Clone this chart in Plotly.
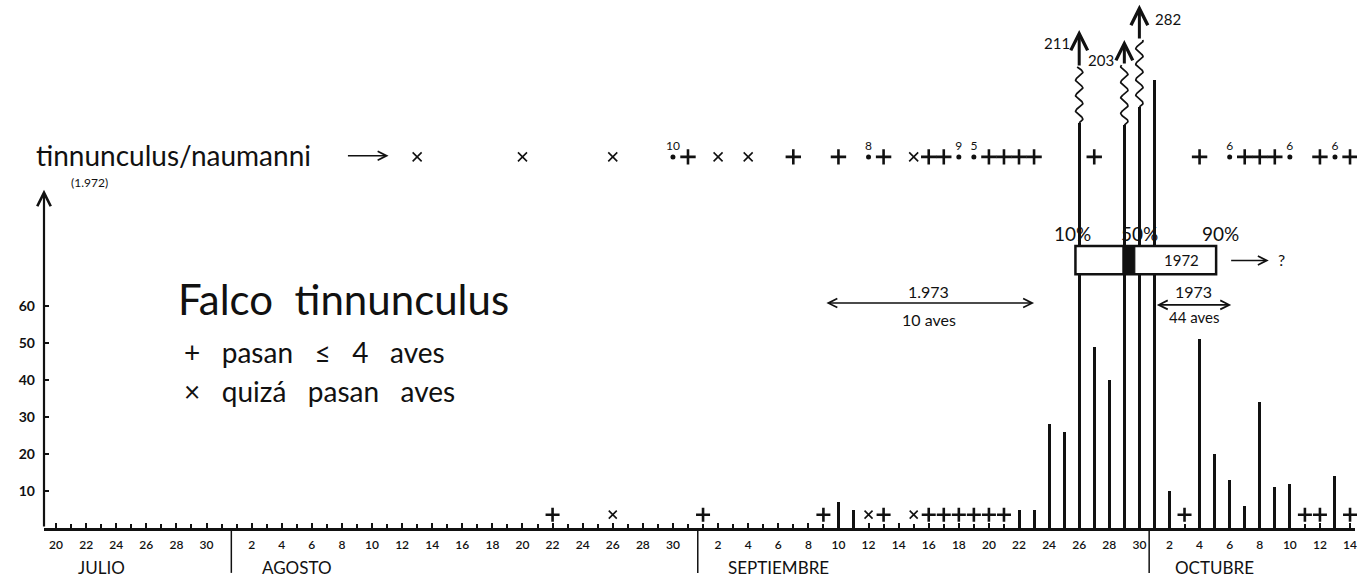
import numpy as np
import pandas as pd
import plotly.graph_objects as go

# ---------------- data ----------------
START = pd.Timestamp("1973-07-20")

# 1973: daily counts drawn as bars
bar_dates = ["09-10", "09-11", "09-22", "09-23", "09-24", "09-25", "09-26", "09-27",
             "09-28", "09-29", "09-30", "10-01", "10-02", "10-04", "10-05", "10-06",
             "10-07", "10-08", "10-09", "10-10", "10-13"]
bar_values = [7, 5, 5, 5, 28, 26, 211, 49, 40, 203, 282, 121, 10, 51, 20, 13, 6, 34, 11, 12, 14]

# 1973: days with <= 4 birds (+) and days where birds may have passed (x)
plus_dates_73 = ["08-22", "09-01", "09-09", "09-13", "09-16", "09-17", "09-18", "09-19",
                 "09-20", "09-21", "10-03", "10-11", "10-12", "10-14"]
x_dates_73 = ["08-26", "09-12", "09-15"]

# 1972 row (tinnunculus/naumanni)
plus_dates_72 = ["08-31", "09-07", "09-10", "09-13", "09-16", "09-17", "09-20", "09-21",
                 "09-22", "09-23", "09-27", "10-04", "10-07", "10-08", "10-09", "10-12", "10-14"]
x_dates_72 = ["08-13", "08-20", "08-26", "09-02", "09-04", "09-15"]
dot_dates_72 = ["08-30", "09-12", "09-18", "09-19", "10-06", "10-10", "10-13"]
dot_values_72 = [10, 8, 9, 5, 6, 6, 6]

# axis ticks
y_ticks = [10, 20, 30, 40, 50, 60]
month_names = ["JULIO", "AGOSTO", "SEPTIEMBRE", "OCTUBRE"]
month_starts = ["07-01", "08-01", "09-01", "10-01"]
month_label_dates = ["07-23", "08-05", "09-06", "10-05"]
end_date = "10-14"


def day(md):
    return (pd.Timestamp("1973-" + md) - START).days


def days(lst):
    return [day(d) for d in lst]


# ---------------- style / layout constants ----------------
BLACK = "#111111"
FONT = "Lato"
X0, X1 = -0.8, 86.33
Y0, Y1 = 0, 142.7
PLOT_H = 528
ROW72 = 100.3          # height of 1972 row
LOW_MARK = 3.6         # height of +/x markers on the 1973 baseline
BAR_W = 0.2
NB = "\u00a0"
# broken bars: (straight-to, wavy-to, arrow tip) in axis units
BREAKS = {"09-26": (109.5, 124.6, 134.6),
          "09-29": (108.9, 125.1, 131.9),
          "09-30": (113.8, 131.9, 141.4)}
# value labels for broken bars: (x offset in days, y, anchor)
LAB_POS = {"09-26": (-0.45, 131, "right"), "09-29": (-1.55, 126.5, "center"),
           "09-30": (0.9, 137.6, "left")}


def px(dx):
    """x (in day units) -> paper fraction"""
    return (dx - X0) / (X1 - X0)


# tick values: even day-of-month
tickvals, ticktext = [], []
d = pd.Timestamp("1973-07-20")
while d <= pd.Timestamp("1973-" + end_date):
    if d.day % 2 == 0:
        tickvals.append((d - START).days)
        ticktext.append(str(d.day))
    d += pd.Timedelta(days=1)

fig = go.Figure()
ann = []

# bars (broken ones drawn up to their break)
bx = days(bar_dates)
by = [BREAKS[dt][0] if dt in BREAKS else v for dt, v in zip(bar_dates, bar_values)]
fig.add_trace(go.Bar(x=bx, y=by, width=BAR_W, marker=dict(color=BLACK, line=dict(width=0)),
                     showlegend=False, hoverinfo="skip"))

# wavy breaks, arrows and value labels
for dt, v in zip(bar_dates, bar_values):
    if dt not in BREAKS:
        continue
    lo, hi, tip = BREAKS[dt]
    xc = day(dt)
    yy = np.linspace(lo, hi, 120)
    xx = xc + 0.24 * np.sin(2 * np.pi * (yy - lo) / 4.2)
    fig.add_trace(go.Scatter(x=xx, y=yy, mode="lines", line=dict(color=BLACK, width=1.7),
                             showlegend=False, hoverinfo="skip"))
    ann.append(dict(x=xc, y=tip, ax=xc, ay=hi, xref="x", yref="y", axref="x", ayref="y",
                    text="", showarrow=True, arrowhead=5, arrowsize=1.1, arrowwidth=3,
                    arrowcolor=BLACK))
    dx, yv, anc = LAB_POS[dt]
    ann.append(dict(x=xc + dx, y=yv, xref="x", yref="y", text=str(v), showarrow=False,
                    xanchor=anc, font=dict(size=15, color=BLACK, family=FONT)))

# 1973 low markers
fig.add_trace(go.Scatter(x=days(plus_dates_73), y=[LOW_MARK] * len(plus_dates_73), mode="markers",
                         marker=dict(symbol="cross-thin", size=10, line=dict(width=2.6, color=BLACK)),
                         showlegend=False, hoverinfo="skip", cliponaxis=False))
fig.add_trace(go.Scatter(x=days(x_dates_73), y=[LOW_MARK] * len(x_dates_73), mode="markers",
                         marker=dict(symbol="x-thin", size=8, line=dict(width=1.6, color=BLACK)),
                         showlegend=False, hoverinfo="skip"))

# 1972 row
fig.add_trace(go.Scatter(x=days(plus_dates_72), y=[ROW72] * len(plus_dates_72), mode="markers",
                         marker=dict(symbol="cross-thin", size=11, line=dict(width=2.6, color=BLACK)),
                         showlegend=False, hoverinfo="skip", cliponaxis=False))
fig.add_trace(go.Scatter(x=days(x_dates_72), y=[ROW72] * len(x_dates_72), mode="markers",
                         marker=dict(symbol="x-thin", size=9, line=dict(width=1.6, color=BLACK)),
                         showlegend=False, hoverinfo="skip"))
fig.add_trace(go.Scatter(x=days(dot_dates_72), y=[ROW72] * len(dot_dates_72), mode="markers+text",
                         text=[str(v) for v in dot_values_72], textposition="top center",
                         textfont=dict(size=12, color=BLACK, family=FONT),
                         marker=dict(symbol="circle", size=5, color=BLACK),
                         showlegend=False, hoverinfo="skip"))

# ---------------- shapes ----------------
shapes = []
# month separators
for ms in month_starts[1:]:
    xs = day(ms) - 0.35
    shapes.append(dict(type="line", xref="x", yref="paper", x0=xs, x1=xs, y0=0, y1=-0.085,
                       line=dict(color=BLACK, width=1.5)))
# 1972 percentage box
box = dict(x0=67.75, x1=77.1, y0=68.6, y1=76.2)
shapes.append(dict(type="rect", xref="x", yref="y", layer="above", fillcolor="white",
                   line=dict(color=BLACK, width=2.5), **box))
shapes.append(dict(type="rect", xref="x", yref="y", layer="above", fillcolor=BLACK,
                   line=dict(color=BLACK, width=1), x0=70.9, x1=71.7, y0=68.6, y1=76.2))

# ---------------- annotations ----------------
# y-axis line with arrow
Y_ARROW = 91.4
ann.append(dict(x=0, y=Y_ARROW, xref="paper", yref="y", ax=0, ay=Y_ARROW * PLOT_H / (Y1 - Y0),
                text="", showarrow=True, arrowhead=5, arrowsize=1.2, arrowwidth=2.2,
                arrowcolor=BLACK))
# month labels
for name, md in zip(month_names, month_label_dates):
    ann.append(dict(x=px(day(md)), y=-0.075, xref="paper", yref="paper", text=name,
                    showarrow=False, xanchor="center", yanchor="middle",
                    font=dict(size=17, color=BLACK, family=FONT)))


def txt(x, y, s, size, anchor="center"):
    ann.append(dict(x=px(x), y=y, xref="paper", yref="y", text=s, showarrow=False, xanchor=anchor,
                    yanchor="middle", font=dict(size=size, color=BLACK, family=FONT)))


txt(-1.45, ROW72 + 0.6, "tinnunculus/naumanni", 28, "left")
txt(2.2, 93.3, "(1.972)", 12)
txt(7.95, 61.8, "Falco" + NB * 2 + "tinnunculus", 42, "left")
txt(8.4, 47.5, "+" + NB * 3 + "pasan" + NB * 3 + "≤" + NB * 3 + "4" + NB * 3 + "aves", 28, "left")
txt(8.4, 37.0, "×" + NB * 3 + "quizá" + NB * 3 + "pasan" + NB * 3 + "aves", 28, "left")
txt(58.0, 64.0, "1.973", 16)
txt(58.0, 56.4, "10 aves", 16)
txt(75.6, 64.0, "1973", 16)
txt(75.6, 57.0, "44 aves", 15)
txt(67.55, 79.6, "10%", 19)
txt(72.0, 79.6, "50%", 19)
txt(77.4, 79.6, "90%", 19)
txt(74.8, 72.3, "1972", 15)
txt(81.1, 72.6, "?", 16, "left")


def arrow(x0, x1, y, both=False, head=5):
    ann.append(dict(x=x1, y=y, ax=x0, ay=y, xref="x", yref="y", axref="x", ayref="y", text="",
                    showarrow=True, arrowhead=head, startarrowhead=head, arrowsize=1.1,
                    startarrowsize=1.1, arrowwidth=1.6, arrowcolor=BLACK,
                    arrowside="end+start" if both else "end"))


arrow(19.3, 22.1, ROW72 + 0.3)
arrow(51.1, 65.0, 60.8, both=True)
arrow(73.06, 78.1, 60.3, both=True)
arrow(78.0, 80.6, 72.3)

fig.update_layout(
    width=1357, height=579,
    margin=dict(l=44, r=0, t=0, b=51),
    paper_bgcolor="white", plot_bgcolor="white",
    bargap=0, showlegend=False,
    shapes=shapes, annotations=ann,
    xaxis=dict(range=[X0, X1], tickmode="array", tickvals=tickvals, ticktext=ticktext,
               showgrid=False, zeroline=False, showline=True, linecolor=BLACK, linewidth=2.5,
               ticks="inside", ticklen=5, tickwidth=1.5, tickcolor=BLACK,
               tickfont=dict(size=12, color=BLACK, family=FONT, weight=600), ticklabelstandoff=4,
               ticklabeloverflow="allow",
               minor=dict(dtick=1, tick0=0, ticks="inside", ticklen=4, tickwidth=1.5, tickcolor=BLACK)),
    yaxis=dict(range=[Y0, Y1], tickmode="array", tickvals=y_ticks, showgrid=False,
               zeroline=False, showline=False, ticks="inside", ticklen=5, tickwidth=1.8,
               tickcolor=BLACK, tickfont=dict(size=14, color=BLACK, family=FONT, weight=700),
               ticklabelstandoff=8),
)

fig.write_html("out.html")
